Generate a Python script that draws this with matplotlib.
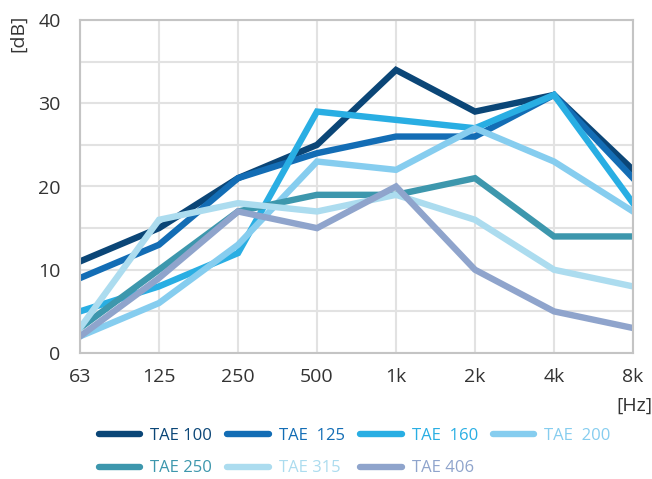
import matplotlib
matplotlib.use("Agg")
import matplotlib.pyplot as plt

plt.rcParams["font.family"] = ["Open Sans", "DejaVu Sans"]

# Data
freqs = ["63", "125", "250", "500", "1k", "2k", "4k", "8k"]
tae_100 = [11, 15, 21, 25, 34, 29, 31, 22]
tae_125 = [9, 13, 21, 24, 26, 26, 31, 21]
tae_160 = [5, 8, 12, 29, 28, 27, 31, 18]
tae_200 = [2, 6, 13, 23, 22, 27, 23, 17]
tae_250 = [3, 10, 17, 19, 19, 21, 14, 14]
tae_315 = [3, 16, 18, 17, 19, 16, 10, 8]
tae_406 = [2, 9, 17, 15, 20, 10, 5, 3]

labels = ["TAE 100", "TAE  125", "TAE  160", "TAE  200", "TAE 250", "TAE 315", "TAE 406"]
series = [tae_100, tae_125, tae_160, tae_200, tae_250, tae_315, tae_406]
colors = ["#0b4677", "#136db5", "#29aee3", "#86cdef", "#3d97ad", "#acdcef", "#8fa4cc"]

fig = plt.figure(figsize=(6.52, 4.79), dpi=100)
ax = fig.add_axes([80 / 652, 1 - 353 / 479, 553 / 652, 333 / 479])

x = list(range(len(freqs)))
lines = []
for vals, c, lab in zip(series, colors, labels):
    ln, = ax.plot(x, vals, color=c, lw=4.6, label=lab, solid_joinstyle="miter")
    lines.append(ln)

ax.set_xlim(0, 7)
ax.set_ylim(0, 40)
ax.set_xticks(x)
ax.set_xticklabels(freqs)
ax.set_yticks([0, 10, 20, 30, 40])
ax.set_yticks([5, 15, 25, 35], minor=True)
ax.grid(True, which="both", color="#e2e2e2", lw=1.5)
ax.set_axisbelow(True)
for s in ax.spines.values():
    s.set_color("#c4c4c4")
    s.set_linewidth(1.5)
ax.tick_params(which="both", length=0, labelsize=14, labelcolor="#333333")
ax.tick_params(axis="x", pad=11)
ax.tick_params(axis="y", pad=14)

fig.text(18 / 652, 1 - 33 / 479, "[dB]", rotation=90, ha="center", va="center",
         fontsize=14, color="#333333")
fig.text(652 / 652, 1 - 406 / 479, "[Hz]", ha="right", va="center",
         fontsize=14, color="#333333")

# row-major order for a 4-column legend
order = [0, 4, 1, 5, 2, 6, 3]
leg = fig.legend(handles=[lines[i] for i in order], loc="upper left",
                 bbox_to_anchor=(92 / 652, 1 - 421 / 479),
                 ncol=4, frameon=False, fontsize=12, handlelength=2.5, handletextpad=0.6,
                 columnspacing=0.9, labelspacing=1.0, borderaxespad=0)
for t, i in zip(leg.get_texts(), order):
    t.set_color(colors[i])
for h in leg.legend_handles:
    h.set_solid_capstyle("round")

fig.savefig("out.png", dpi=100)
